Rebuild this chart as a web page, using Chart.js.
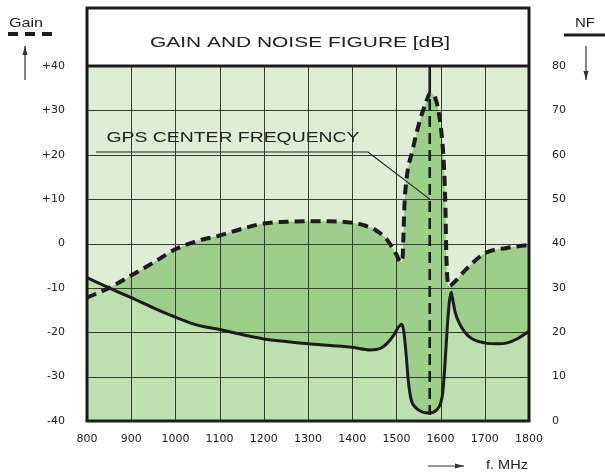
<!DOCTYPE html>
<html>
<head>
<meta charset="utf-8">
<script src="https://cdn.jsdelivr.net/npm/chart.js@4/dist/chart.umd.min.js"></script>
<style>
  html, body { margin: 0; padding: 0; background: #fff; }
</style>
</head>
<body>
<canvas id="gainChart" width="605" height="474"></canvas>
<script>
// values
const freqTicks = [800, 900, 1000, 1100, 1200, 1300, 1400, 1500, 1600, 1700, 1800];

const gainFreq = [800, 850, 900, 950, 1000, 1050, 1100, 1150, 1200, 1250, 1300, 1350, 1400, 1430, 1450, 1480,
  1500, 1510, 1514, 1516, 1518, 1522, 1537, 1552, 1567, 1577, 1589, 1597, 1604, 1608, 1611, 1613, 1619,
  1630, 1657, 1700, 1750, 1800];
const gainValues = [-12.2, -10, -7.2, -4.3, -1.3, 0.6, 1.8, 3.3, 4.5, 4.9, 5.0, 5.0, 4.7, 4.0, 3.2, 0.7,
  -2.5, -4.2, -3.2, 2, 8, 13.7, 21.2, 27.3, 31.8, 34, 32.5, 28.8, 22.8, 16.7, 7.7, -2.9, -9.6,
  -8.8, -5.9, -2.2, -1, -0.3];

const nfFreq = [800, 850, 900, 950, 1000, 1050, 1100, 1150, 1200, 1250, 1300, 1350, 1400, 1440, 1465, 1480,
  1495, 1505, 1512, 1517, 1522, 1527, 1533, 1544, 1560, 1575, 1592, 1600, 1605, 1610, 1615, 1620, 1624,
  1628, 1633, 1642, 1655, 1670, 1700, 1730, 1750, 1775, 1800];
const nfValues = [32.3, 30, 27.8, 25.5, 23.4, 21.6, 20.6, 19.5, 18.5, 17.9, 17.4, 17.0, 16.6, 16.0, 16.4, 17.6,
  19.5, 21.2, 21.8, 20, 15, 9, 5, 3.0, 2.0, 1.8, 2.6, 4, 6.5, 13, 21, 27, 29,
  27, 24.5, 22.1, 20, 18.6, 17.6, 17.4, 17.6, 18.6, 20.2];

const gpsFrequency = 1575.42;
const gpsPointerGain = 10;

const lightGreen = '#deeed6';
const midGreen = '#bedfb0';
const darkGreen = '#9dcf8a';
const ink = '#1c1c1c';

function stretchText(ctx, text, cx, cy, targetW, font) {
  ctx.save();
  ctx.font = font;
  const w = ctx.measureText(text).width;
  ctx.translate(cx, cy);
  ctx.scale(targetW / w, 1);
  ctx.textAlign = 'center';
  ctx.textBaseline = 'middle';
  ctx.fillStyle = '#222';
  ctx.fillText(text, 0, 0);
  ctx.restore();
}

function arrow(ctx, x1, y1, x2, y2) {
  const a = Math.atan2(y2 - y1, x2 - x1);
  ctx.save();
  ctx.strokeStyle = '#333';
  ctx.fillStyle = '#333';
  ctx.lineWidth = 1.2;
  ctx.beginPath();
  ctx.moveTo(x1, y1);
  ctx.lineTo(x2, y2);
  ctx.stroke();
  ctx.beginPath();
  ctx.moveTo(x2, y2);
  ctx.lineTo(x2 - 9 * Math.cos(a) + 2.5 * Math.sin(a), y2 - 9 * Math.sin(a) - 2.5 * Math.cos(a));
  ctx.lineTo(x2 - 9 * Math.cos(a) - 2.5 * Math.sin(a), y2 - 9 * Math.sin(a) + 2.5 * Math.cos(a));
  ctx.closePath();
  ctx.fill();
  ctx.restore();
}

const decor = {
  id: 'decor',
  beforeDraw(chart) {
    const { ctx, chartArea: a } = chart;
    ctx.save();
    ctx.fillStyle = '#fff';
    ctx.fillRect(0, 0, chart.width, chart.height);
    ctx.fillStyle = lightGreen;
    ctx.fillRect(a.left, a.top, a.right - a.left, a.bottom - a.top);
    ctx.restore();
  },
  beforeDatasetsDraw(chart) {
    // grid goes over the fills but under the curves
    const { ctx, chartArea: a, scales } = chart;
    ctx.save();
    ctx.strokeStyle = '#3a3a3a';
    ctx.lineWidth = 1;
    ctx.beginPath();
    scales.x.ticks.forEach(t => {
      const x = Math.round(scales.x.getPixelForValue(t.value)) + 0.5;
      ctx.moveTo(x, a.top);
      ctx.lineTo(x, a.bottom);
    });
    scales.y.ticks.forEach(t => {
      const y = Math.round(scales.y.getPixelForValue(t.value)) + 0.5;
      ctx.moveTo(a.left, y);
      ctx.lineTo(a.right, y);
    });
    ctx.stroke();
    ctx.restore();
  },
  afterDatasetsDraw(chart) {
    const { ctx, chartArea: a, scales } = chart;
    const gx = scales.x.getPixelForValue(gpsFrequency);
    const py = scales.y.getPixelForValue(gpsPointerGain);
    ctx.save();
    ctx.strokeStyle = ink;
    ctx.lineWidth = 2.6;
    ctx.beginPath();
    ctx.moveTo(gx, a.top);
    ctx.lineTo(gx, a.top + 27);
    ctx.stroke();
    ctx.setLineDash([11, 6]);
    ctx.beginPath();
    ctx.moveTo(gx, a.top + 33);
    ctx.lineTo(gx, a.bottom - 6);
    ctx.stroke();
    ctx.setLineDash([]);
    // annotation
    ctx.strokeStyle = '#222';
    ctx.lineWidth = 1.2;
    ctx.beginPath();
    ctx.moveTo(96, 152);
    ctx.lineTo(368, 152);
    ctx.lineTo(gx, py);
    ctx.stroke();
    ctx.restore();
    stretchText(ctx, 'GPS CENTER FREQUENCY', 233, 138, 253, '15px "Liberation Sans"');
  },
  afterDraw(chart) {
    const { ctx, chartArea: a } = chart;
    ctx.save();
    ctx.strokeStyle = ink;
    ctx.lineWidth = 3;
    ctx.strokeRect(a.left, 8, a.right - a.left, a.bottom - 8);
    ctx.beginPath();
    ctx.moveTo(a.left, a.top);
    ctx.lineTo(a.right, a.top);
    ctx.stroke();
    ctx.restore();
    stretchText(ctx, 'GAIN AND NOISE FIGURE [dB]', 300, 43, 300, '15px "Liberation Sans"');

    // Gain legend
    stretchText(ctx, 'Gain', 26, 23, 34, '13px "Liberation Sans"');
    ctx.save();
    ctx.strokeStyle = ink;
    ctx.lineWidth = 4;
    ctx.setLineDash([10, 7]);
    ctx.beginPath();
    ctx.moveTo(8, 34);
    ctx.lineTo(53, 34);
    ctx.stroke();
    ctx.restore();
    arrow(ctx, 25, 80, 25, 46);

    // NF legend
    stretchText(ctx, 'NF', 585, 23, 20, '13px "Liberation Sans"');
    ctx.save();
    ctx.strokeStyle = ink;
    ctx.lineWidth = 3;
    ctx.beginPath();
    ctx.moveTo(564, 35);
    ctx.lineTo(605, 35);
    ctx.stroke();
    ctx.restore();
    arrow(ctx, 586, 46, 586, 80);

    // frequency axis caption
    arrow(ctx, 428, 466, 464, 466);
    stretchText(ctx, 'f. MHz', 507, 466, 42, '12px "Liberation Sans"');
  }
};

const tickFont = { family: 'DejaVu Sans', size: 11 };

new Chart(document.getElementById('gainChart'), {
  type: 'line',
  data: {
    datasets: [{
      label: 'NF',
      yAxisID: 'yNF',
      data: nfFreq.map((f, i) => ({ x: f, y: nfValues[i] })),
      borderColor: ink,
      borderWidth: 3,
      backgroundColor: midGreen,
      fill: 'start',
      pointRadius: 0,
      cubicInterpolationMode: 'monotone'
    }, {
      label: 'Gain',
      yAxisID: 'y',
      data: gainFreq.map((f, i) => ({ x: f, y: gainValues[i] })),
      borderColor: ink,
      borderWidth: 4,
      borderDash: [10, 6],
      backgroundColor: darkGreen,
      fill: 'start',
      pointRadius: 0,
      cubicInterpolationMode: 'monotone'
    }]
  },
  options: {
    responsive: false,
    animation: false,
    layout: { padding: { top: 66, left: 0, right: 0, bottom: 0 } },
    plugins: {
      legend: { display: false },
      tooltip: { enabled: false },
      filler: { drawTime: 'beforeDatasetsDraw' }
    },
    scales: {
      x: {
        type: 'linear',
        min: 800,
        max: 1800,
        afterBuildTicks: s => { s.ticks = freqTicks.map(v => ({ value: v })); },
        afterFit: s => { s.height = 53; },
        grid: { display: false },
        border: { display: false },
        ticks: {
          font: tickFont,
          color: '#222',
          padding: 4,
          maxRotation: 0,
          autoSkip: false,
          callback: v => String(v)
        }
      },
      y: {
        position: 'left',
        min: -40,
        max: 40,
        afterFit: s => { s.width = 87; },
        grid: { display: false },
        border: { display: false },
        ticks: {
          stepSize: 10,
          font: tickFont,
          color: '#222',
          padding: 14,
          callback: v => (v > 0 ? '+' + v : String(v))
        }
      },
      yNF: {
        position: 'right',
        min: 0,
        max: 80,
        afterFit: s => { s.width = 76; },
        grid: { display: false },
        border: { display: false },
        ticks: { stepSize: 10, font: tickFont, color: '#222', padding: 15 }
      }
    }
  },
  plugins: [decor]
});
</script>
</body>
</html>
